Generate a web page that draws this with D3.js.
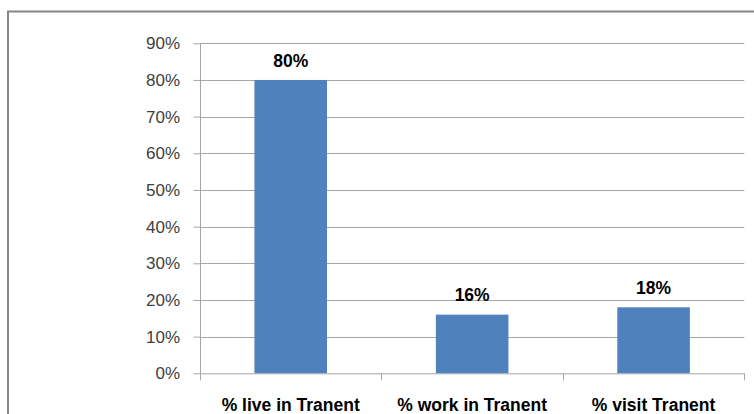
<!DOCTYPE html>
<html><head><meta charset="utf-8">
<script src="https://cdn.jsdelivr.net/npm/d3@7"></script>
<style>body{margin:0;background:#fff}svg{display:block}</style>
</head><body>
<script>
const categories = ["% live in Tranent", "% work in Tranent", "% visit Tranent"];
const values = [0.80, 0.16, 0.18];
const tickValues = [0, 0.1, 0.2, 0.3, 0.4, 0.5, 0.6, 0.7, 0.8, 0.9];

const W = 754, H = 414;
const svg = d3.select("body").append("svg").attr("width", W).attr("height", H);

// outer chart border
svg.append("rect").attr("x", 8).attr("y", 11.5).attr("width", 760).attr("height", 420)
  .attr("fill", "none").attr("stroke", "#868686").attr("stroke-width", 2);

const pLeft = 200, pRight = 744.3, pTop = 43.3, pBottom = 373.3;
const x = d3.scaleBand().domain(categories).range([pLeft, pRight]).paddingInner(0.6).paddingOuter(0.3);
const y = d3.scaleLinear().domain([0, 0.9]).range([pBottom, pTop]);

const grid = "#a6a6a6";
const font = "'Liberation Sans', Arial, sans-serif";
// gridlines
svg.append("g").selectAll("line").data(tickValues.slice(1)).join("line")
  .attr("x1", pLeft).attr("x2", pRight)
  .attr("y1", d => Math.round(y(d)) + 0.5).attr("y2", d => Math.round(y(d)) + 0.5)
  .attr("stroke", grid).attr("stroke-width", 1);

// y axis
const yAxis = svg.append("g").attr("transform", `translate(${pLeft + 0.5},0)`)
  .call(d3.axisLeft(y).tickValues(tickValues).tickFormat(d3.format(".0%")).tickSize(7).tickPadding(13.5));
yAxis.select(".domain").attr("stroke", grid).attr("d", `M0,${pTop}V${pBottom}`);
yAxis.selectAll(".tick line").attr("stroke", grid);
yAxis.selectAll(".tick text").attr("fill", "#404040")
  .style("font-family", font).style("font-size", "17px");

// bars
svg.append("g").selectAll("rect").data(categories).join("rect")
  .attr("x", d => x(d)).attr("width", x.bandwidth())
  .attr("y", (d, i) => y(values[i])).attr("height", (d, i) => pBottom - y(values[i]))
  .attr("fill", "#4f81bd");

// x axis
const step = (pRight - pLeft) / categories.length;
const xg = svg.append("g");
xg.append("line").attr("x1", pLeft).attr("x2", pRight).attr("y1", pBottom + 0.5).attr("y2", pBottom + 0.5)
  .attr("stroke", grid);
xg.selectAll("line.t").data(d3.range(categories.length + 1)).join("line").attr("class", "t")
  .attr("x1", i => Math.round(pLeft + i * step) + 0.5).attr("x2", i => Math.round(pLeft + i * step) + 0.5)
  .attr("y1", pBottom).attr("y2", pBottom + 7).attr("stroke", grid);
xg.selectAll("text").data(categories).join("text")
  .attr("x", d => x(d) + x.bandwidth() / 2).attr("y", 411)
  .attr("text-anchor", "middle").attr("fill", "#000")
  .style("font-family", font).style("font-size", "17.5px").style("font-weight", "bold")
  .text(d => d);

// data labels
svg.append("g").selectAll("text").data(categories).join("text")
  .attr("x", d => x(d) + x.bandwidth() / 2).attr("y", (d, i) => y(values[i]) - 13.3)
  .attr("text-anchor", "middle").attr("fill", "#000")
  .style("font-family", font).style("font-size", "17.5px").style("font-weight", "bold")
  .text((d, i) => d3.format(".0%")(values[i]));
</script>
</body></html>
